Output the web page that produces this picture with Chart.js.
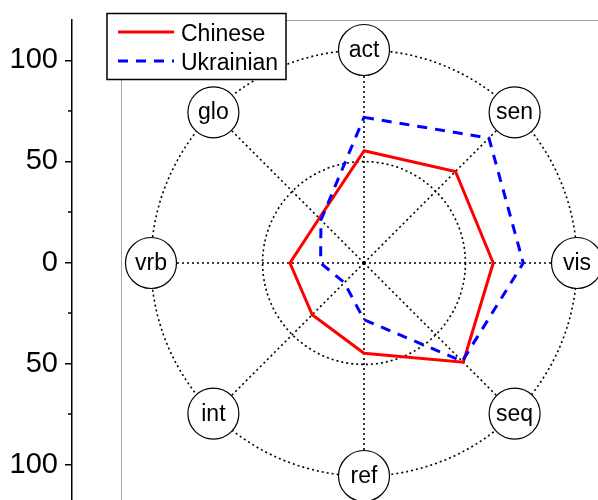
<!DOCTYPE html>
<html>
<head>
<meta charset="utf-8">
<script src="https://cdn.jsdelivr.net/npm/chart.js@4.4.1/dist/chart.umd.min.js"></script>
<style>
  html, body { margin: 0; padding: 0; background: #fff; }
  #wrap { position: relative; width: 598px; height: 500px; overflow: hidden; }
  #wrap canvas { position: absolute; left: 0; top: 0; }
</style>
</head>
<body>
<div id="wrap">
  <canvas id="sideAxis" width="598" height="510"></canvas>
  <canvas id="radar" width="598" height="500"></canvas>
</div>
<script>
const axisLabels = ['act', 'sen', 'vis', 'seq', 'ref', 'int', 'vrb', 'glo'];
const chineseValues = [55.3, 63.8, 63.7, 69.2, 44.5, 36.1, 36.5, 31.2];
const ukrainianValues = [71.8, 87.1, 78.5, 68.5, 28, 13.7, 21.4, 30];
const ringValues = [0, 50, 105];
const sideTicks = [-100, -50, 0, 50, 100];
const sideMinorTicks = [-75, -25, 25, 75];

const FONT = '"Liberation Sans", Arial, sans-serif';

// left axis with minor ticks and the grey frame of the plot layer
const sideDecor = {
    id: 'sideDecor',
    afterDraw(chart) {
        const ctx = chart.ctx;
        const y = chart.scales.y;
        const area = chart.chartArea;
        ctx.save();
        ctx.strokeStyle = '#000';
        ctx.lineWidth = 1.5;
        sideMinorTicks.forEach(v => {
            const py = y.getPixelForValue(v);
            ctx.beginPath();
            ctx.moveTo(y.right - 4, py);
            ctx.lineTo(y.right, py);
            ctx.stroke();
        });
        ctx.strokeStyle = '#a6a6a6';
        ctx.lineWidth = 1;
        const fx = Math.round(area.left + 49) + 0.5;
        const fy = Math.round(area.top) + 0.5;
        ctx.beginPath();
        ctx.moveTo(fx, chart.height);
        ctx.lineTo(fx, fy);
        ctx.lineTo(chart.width, fy);
        ctx.stroke();
        ctx.restore();
    }
};

new Chart(document.getElementById('sideAxis'), {
    type: 'line',
    data: { labels: [], datasets: [] },
    options: {
        responsive: false,
        animation: false,
        layout: { padding: { left: 8, top: 20, right: 0, bottom: 5 } },
        plugins: { legend: { display: false }, tooltip: { enabled: false } },
        scales: {
            x: { display: false },
            y: {
                min: -120,
                max: 120,
                afterBuildTicks: s => { s.ticks = sideTicks.map(v => ({ value: v })); },
                afterFit: s => {
                    s.width = 64;
                    s.paddingTop = 0;
                    s.paddingBottom = 0;
                },
                grid: { drawOnChartArea: false, tickLength: 7, color: '#000', lineWidth: 1.5 },
                border: { display: true, color: '#000', width: 1.5 },
                ticks: {
                    padding: 7,
                    color: '#000',
                    font: { family: FONT, size: 29 },
                    callback: v => Math.abs(v)
                }
            }
        }
    },
    plugins: [sideDecor]
});

// circled axis names on the outer ring, centre mark and the boxed legend
const radarDecor = {
    id: 'radarDecor',
    afterDraw(chart) {
        const ctx = chart.ctx;
        const r = chart.scales.r;
        const dist = r.getDistanceFromCenterForValue(r.max);
        ctx.save();
        ctx.fillStyle = '#000';
        ctx.fillRect(r.xCenter - 1.5, r.yCenter - 1.5, 3, 3);

        chart.data.labels.forEach((lab, i) => {
            const p = r.getPointPosition(i, dist);
            ctx.beginPath();
            ctx.arc(p.x, p.y, 25.5, 0, Math.PI * 2);
            ctx.fillStyle = '#fff';
            ctx.fill();
            ctx.lineWidth = 1.2;
            ctx.strokeStyle = '#000';
            ctx.setLineDash([]);
            ctx.stroke();
            ctx.fillStyle = '#000';
            ctx.font = '23px ' + FONT;
            ctx.textAlign = 'center';
            ctx.textBaseline = 'alphabetic';
            ctx.fillText(lab, p.x, p.y + 7);
        });

        // legend
        ctx.fillStyle = '#fff';
        ctx.fillRect(107, 13.5, 179, 66);
        ctx.lineWidth = 1.5;
        ctx.strokeStyle = '#000';
        ctx.strokeRect(107, 13.5, 179, 66);
        chart.data.datasets.forEach((ds, i) => {
            const ly = 32 + i * 29;
            ctx.beginPath();
            ctx.setLineDash(ds.borderDash || []);
            ctx.strokeStyle = ds.borderColor;
            ctx.lineWidth = ds.borderWidth;
            ctx.moveTo(118, ly);
            ctx.lineTo(174, ly);
            ctx.stroke();
            ctx.setLineDash([]);
            ctx.fillStyle = '#000';
            ctx.font = '23px ' + FONT;
            ctx.textAlign = 'left';
            ctx.fillText(ds.label, 181, ly + 8.5);
        });
        ctx.restore();
    }
};

new Chart(document.getElementById('radar'), {
    type: 'radar',
    data: {
        labels: axisLabels,
        datasets: [{
            label: 'Chinese',
            data: chineseValues,
            borderColor: '#ff0000',
            borderWidth: 3,
            fill: false,
            pointRadius: 0,
            tension: 0,
            order: 1
        }, {
            label: 'Ukrainian',
            data: ukrainianValues,
            borderColor: '#0000ff',
            borderWidth: 3,
            borderDash: [10, 8],
            fill: false,
            pointRadius: 0,
            tension: 0,
            order: 0
        }]
    },
    options: {
        responsive: false,
        animation: false,
        layout: { padding: { left: 151, top: 50, right: 21, bottom: 24 } },
        plugins: { legend: { display: false }, tooltip: { enabled: false } },
        scales: {
            r: {
                min: 0,
                max: 105,
                afterBuildTicks: s => { s.ticks = ringValues.map(v => ({ value: v })); },
                ticks: { display: false },
                pointLabels: { display: false },
                grid: { circular: true, color: '#000', lineWidth: 1.6 },
                border: { dash: [2, 3] },
                angleLines: { color: '#000', lineWidth: 1.6, borderDash: [2, 3] }
            }
        }
    },
    plugins: [radarDecor]
});
</script>
</body>
</html>
